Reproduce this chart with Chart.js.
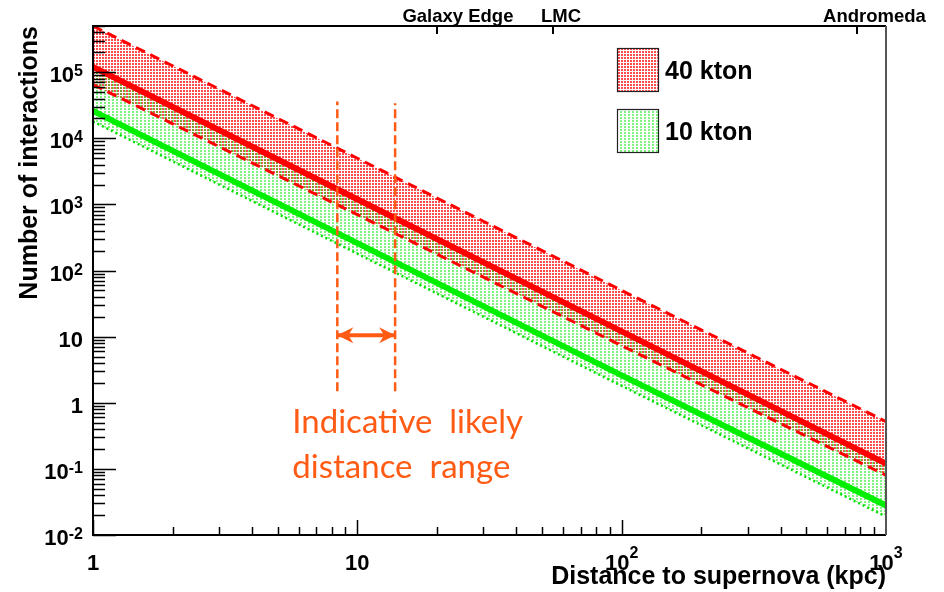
<!DOCTYPE html>
<html>
<head>
<meta charset="utf-8">
<title>Supernova neutrino interactions vs distance</title>
<script src="https://cdn.jsdelivr.net/npm/chart.js@4.4.1/dist/chart.umd.min.js"></script>
<style>
  html, body { margin: 0; padding: 0; background: #fff; }
  canvas { display: block; }
</style>
</head>
<body>
<canvas id="chartCanvas" width="944" height="592"></canvas>
<script>
const distKpc = [1, 10, 100, 1000];

// 40 kton: central curve and band edges
const kton40 = [1.2e5, 1.2e3, 12, 0.12];
const kton40High = [5e5, 5e3, 50, 0.52];
const kton40Low = [6.5e4, 700, 7.3, 0.08];

// 10 kton
const kton10 = [2.6e4, 260, 2.6, 0.028];
const kton10High = [1.2e5, 1.2e3, 12, 0.12];
const kton10Low = [1.8e4, 180, 1.8, 0.019];

// indicative likely distance range (orange markup)
const rangeKpc = [8.4, 13.9];
const rangeLineTop = [3.6e4, 3.4e4];
const rangeLineBottom = [1.5, 1.5];
const rangeArrowY = 10.5;

// tick labels, "^" marks the exponent
const xTickValues = [1, 10, 100, 1000];
const xTickLabels = ['1', '10', '10^2', '10^3'];
const yTickValues = [1e-2, 1e-1, 1, 10, 1e2, 1e3, 1e4, 1e5];
const yTickLabels = ['10^-2', '10^-1', '1', '10', '10^2', '10^3', '10^4', '10^5'];

const landmarks = ['Galaxy Edge', 'LMC', 'Andromeda'];
const landmarkKpc = [20, 55, 780];

const ORANGE = '#ff5b14';
const HELV = '"Liberation Sans", Arial, Helvetica, sans-serif';

const canvas = document.getElementById('chartCanvas');
const ctx = canvas.getContext('2d');

// ROOT-like dotted fill patterns
function dotPattern(color, w, h, dots) {
    const c = document.createElement('canvas');
    c.width = w;
    c.height = h;
    const g = c.getContext('2d');
    g.fillStyle = color;
    dots.forEach(([x, y, dw, dh]) => g.fillRect(x, y, dw, dh));
    return ctx.createPattern(c, 'repeat');
}
const redDots = dotPattern('rgba(255,0,0,0.7)', 3, 3, [[0, 0, 2, 2]]);
const greenDots = dotPattern('rgba(0,230,0,0.5)', 4, 3, [[0, 0, 2, 2]]);

const pts = (ys) => distKpc.map((d, i) => ({x: d, y: ys[i]}));

function dart(tipX, tipY, dir) {
    ctx.beginPath();
    ctx.moveTo(tipX, tipY);
    ctx.lineTo(tipX - dir * 16, tipY - 8);
    ctx.lineTo(tipX - dir * 11, tipY);
    ctx.lineTo(tipX - dir * 16, tipY + 8);
    ctx.closePath();
    ctx.fill();
}

// "10^5" style label: base text plus a raised smaller exponent
function powerLabel(label, x, baseY, align, raise) {
    const [base, exp] = label.split('^');
    const baseFont = 'bold 22px ' + HELV;
    const expFont = 'bold 16px ' + HELV;
    ctx.font = baseFont;
    const wb = ctx.measureText(base).width;
    let we = 0;
    if (exp) {
        ctx.font = expFont;
        we = ctx.measureText(exp).width;
    }
    const left = align === 'right' ? x - wb - we : x - (wb + we) / 2;
    ctx.textAlign = 'left';
    ctx.textBaseline = 'alphabetic';
    ctx.font = baseFont;
    ctx.fillText(base, left, baseY);
    if (exp) {
        ctx.font = expFont;
        ctx.fillText(exp, left + wb, baseY - raise);
    }
}

// inward ticks, frame, tick labels, landmark axis, legend and text notes
const rootDecor = {
    id: 'rootDecor',
    afterDatasetsDraw(chart) {
        const {chartArea: a, scales: {x, y}} = chart;
        ctx.save();

        // arrow heads on the range arrow
        const arrow = chart.getDatasetMeta(8).data;
        ctx.fillStyle = ORANGE;
        dart(arrow[0].x, arrow[0].y, -1);
        dart(arrow[arrow.length - 1].x, arrow[arrow.length - 1].y, 1);

        // tick marks
        ctx.strokeStyle = '#000';
        ctx.lineWidth = 1.5;
        ctx.beginPath();
        for (let e = -2; e <= 5; e++) {
            for (let k = 1; k <= 9; k++) {
                const v = k * Math.pow(10, e);
                if (v > y.max) break;
                const py = Math.round(y.getPixelForValue(v)) + 0.5;
                ctx.moveTo(a.left, py);
                ctx.lineTo(a.left + (k === 1 ? 23 : 12), py);
            }
        }
        for (let e = 0; e < 3; e++) {
            for (let k = 1; k <= 9; k++) {
                const px = Math.round(x.getPixelForValue(k * Math.pow(10, e))) + 0.5;
                ctx.moveTo(px, a.bottom);
                ctx.lineTo(px, a.bottom - (k === 1 ? 15 : 8));
            }
        }
        ctx.stroke();

        ctx.lineWidth = 2;
        ctx.beginPath();
        landmarkKpc.forEach(d => {
            const px = Math.round(x.getPixelForValue(d));
            ctx.moveTo(px, a.top);
            ctx.lineTo(px, a.top + 8);
        });
        ctx.stroke();

        // frame
        ctx.lineWidth = 2;
        ctx.beginPath();
        ctx.moveTo(a.right, a.top);
        ctx.lineTo(a.left, a.top);
        ctx.lineTo(a.left, a.bottom);
        ctx.lineTo(a.right, a.bottom);
        ctx.stroke();
        ctx.strokeStyle = '#555';
        ctx.beginPath();
        ctx.moveTo(a.right, a.top);
        ctx.lineTo(a.right, a.bottom);
        ctx.stroke();

        // tick labels
        ctx.fillStyle = '#000';
        yTickValues.forEach((v, i) => {
            powerLabel(yTickLabels[i], a.left - 10, y.getPixelForValue(v) + 10, 'right', 6);
        });
        xTickValues.forEach((v, i) => {
            powerLabel(xTickLabels[i], x.getPixelForValue(v), a.bottom + 35, 'center', 12);
        });

        // landmark labels
        const nudge = [21, 8, 17];
        ctx.font = 'bold 18.5px ' + HELV;
        ctx.textAlign = 'center';
        ctx.textBaseline = 'middle';
        landmarks.forEach((name, i) => {
            ctx.fillText(name, x.getPixelForValue(landmarkKpc[i]) + nudge[i], a.top - 9);
        });

        // legend
        const entries = [chart.data.datasets[0], chart.data.datasets[2]];
        entries.forEach((ds, i) => {
            const bx = 617, by = 48 + i * 61;
            ctx.fillStyle = '#fff';
            ctx.fillRect(bx, by, 41, 43);
            ctx.fillStyle = ds.backgroundColor;
            ctx.fillRect(bx, by, 41, 43);
            ctx.strokeStyle = '#222';
            ctx.lineWidth = 1.2;
            ctx.strokeRect(bx + 0.5, by + 0.5, 41, 43);
            ctx.fillStyle = '#000';
            ctx.font = 'bold 25px ' + HELV;
            ctx.textAlign = 'left';
            ctx.textBaseline = 'middle';
            ctx.fillText(ds.label, bx + 48, by + 24);
        });

        // orange note
        ctx.fillStyle = ORANGE;
        ctx.font = '33px Lato, "Open Sans", sans-serif';
        ctx.textAlign = 'left';
        ctx.textBaseline = 'alphabetic';
        const tx = x.getPixelForValue(rangeKpc[0]) - 45;
        ctx.fillText('Indicative  likely', tx, a.top + 407);
        ctx.fillText('distance  range', tx, a.top + 452);

        ctx.restore();
    }
};

const titleFont = {family: HELV, weight: 'bold', size: 25};

new Chart(ctx, {
    type: 'line',
    data: {
        datasets: [
            {label: '40 kton', data: pts(kton40High), borderColor: '#ff0000', borderWidth: 3,
             borderDash: [10, 6], fill: '+1', backgroundColor: redDots, order: 5},
            {label: '40 kton low', data: pts(kton40Low), borderColor: '#ff0000', borderWidth: 3,
             borderDash: [10, 6], fill: false, order: 5},
            {label: '10 kton', data: pts(kton10High), borderColor: '#00e000', borderWidth: 2,
             borderDash: [2, 3], fill: '+1', backgroundColor: greenDots, order: 4},
            {label: '10 kton low', data: pts(kton10Low), borderColor: '#00e000', borderWidth: 2.5,
             borderDash: [2, 3], fill: false, order: 4},
            {label: '40 kton central', data: pts(kton40), borderColor: '#ff0000', borderWidth: 6,
             fill: false, order: 1},
            {label: '10 kton central', data: pts(kton10), borderColor: '#00ee00', borderWidth: 6,
             fill: false, order: 1},
            {label: 'range low', data: [{x: rangeKpc[0], y: rangeLineBottom[0]}, {x: rangeKpc[0], y: rangeLineTop[0]}],
             borderColor: ORANGE, borderWidth: 2.5, borderDash: [9, 4], fill: false, order: -1},
            {label: 'range high', data: [{x: rangeKpc[1], y: rangeLineBottom[1]}, {x: rangeKpc[1], y: rangeLineTop[1]}],
             borderColor: ORANGE, borderWidth: 2.5, borderDash: [9, 4], fill: false, order: -1},
            {label: 'range arrow', data: [{x: rangeKpc[0], y: rangeArrowY}, {x: rangeKpc[1], y: rangeArrowY}],
             borderColor: ORANGE, borderWidth: 4, fill: false, order: -1}
        ]
    },
    options: {
        responsive: false,
        animation: false,
        elements: {point: {radius: 0}, line: {tension: 0, borderCapStyle: 'butt'}},
        layout: {padding: {top: 26, right: 58, left: 0, bottom: 0}},
        plugins: {
            legend: {display: false},
            tooltip: {enabled: false},
            filler: {drawTime: 'beforeDatasetsDraw'}
        },
        scales: {
            x: {
                type: 'logarithmic', min: 1, max: 1000,
                afterBuildTicks: (s) => { s.ticks = xTickValues.map(v => ({value: v})); },
                afterFit: (s) => { s.height = 57; },
                grid: {display: false}, border: {display: false},
                ticks: {display: false},
                title: {display: true, text: 'Distance to supernova (kpc)', align: 'end', color: '#000',
                        font: titleFont, padding: {top: 0, bottom: 0}}
            },
            y: {
                type: 'logarithmic', min: 1e-2, max: 5e5,
                afterBuildTicks: (s) => { s.ticks = yTickValues.map(v => ({value: v})); },
                afterFit: (s) => { s.width = 93; },
                grid: {display: false}, border: {display: false},
                ticks: {display: false},
                title: {display: true, text: 'Number of interactions', align: 'end', color: '#000',
                        font: titleFont, padding: {top: 15, bottom: 0}}
            }
        }
    },
    plugins: [rootDecor]
});
</script>
</body>
</html>
